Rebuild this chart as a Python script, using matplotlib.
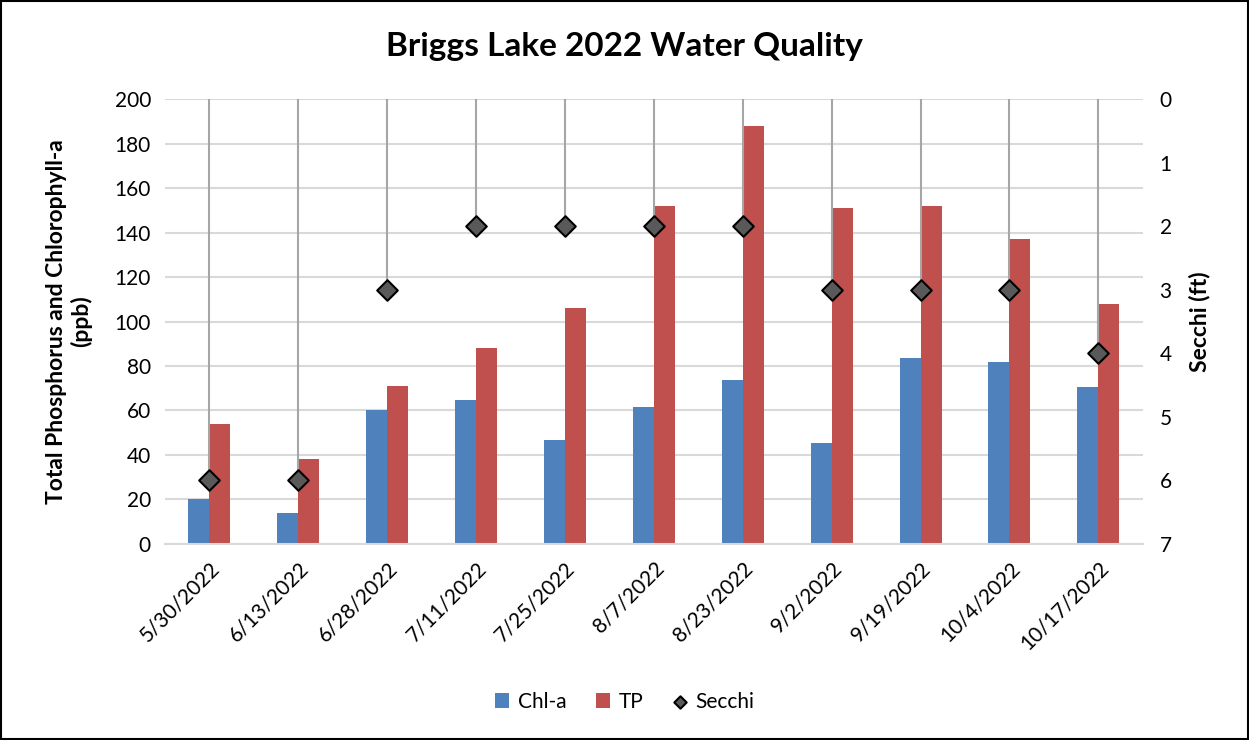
import numpy as np
import matplotlib
matplotlib.use("Agg")
import matplotlib.pyplot as plt
from matplotlib.patches import Rectangle

plt.rcParams['font.family'] = ['Lato', 'DejaVu Sans']

# data
dates = ['5/30/2022', '6/13/2022', '6/28/2022', '7/11/2022', '7/25/2022', '8/7/2022',
         '8/23/2022', '9/2/2022', '9/19/2022', '10/4/2022', '10/17/2022']
chla = [20, 14, 60, 64.5, 46.5, 61.5, 73.5, 45.5, 83.5, 82, 70.5]
tp = [54, 38, 71, 88, 106, 152, 188, 151, 152, 137, 108]
secchi = [6, 6, 3, 2, 2, 2, 2, 3, 3, 3, 4]

blue = '#4F81BD'
red = '#C0504D'

fig = plt.figure(figsize=(12.49, 7.4), dpi=100)
ax = fig.add_axes([0.132, 0.265, 0.783, 0.601])
ax2 = ax.twinx()

x = np.arange(len(dates))
w = 0.236
b1 = ax.bar(x - w/2, chla, w, color=blue, label='Chl-a', zorder=2)
b2 = ax.bar(x + w/2, tp, w, color=red, label='TP', zorder=2)

ax.set_ylim(0, 200)
ax.set_yticks(range(0, 201, 20))
ax.set_xlim(-0.5, len(dates) - 0.5)
ax.set_xticks(x)
ax.set_xticklabels(dates, rotation=45, ha='right', rotation_mode='anchor')
ax.grid(axis='y', color='#D9D9D9', linewidth=1.5, zorder=0)
ax.set_axisbelow(True)
ax.tick_params(length=0, labelsize=15, pad=10)
ax.tick_params(axis='x', pad=10)
for s in ['top', 'left', 'right']:
    ax.spines[s].set_visible(False)
ax.spines['bottom'].set_color('#D9D9D9')
ax.spines['bottom'].set_linewidth(1.5)
ax.set_ylabel('Total Phosphorus and Chlorophyll-a\n(ppb)', fontsize=16.5,
              fontweight='bold', labelpad=16)

# secchi on inverted right axis with drop lines from the top
ax2.vlines(x, 0, secchi, color='#A6A6A6', linewidth=1.5, zorder=3)
s = ax2.scatter(x, secchi, marker='D', s=110, color='#595959', edgecolor='black',
                linewidth=1.5, zorder=4, label='Secchi')
ax2.set_ylim(7, 0)
ax2.set_yticks(range(0, 8))
ax2.tick_params(length=0, labelsize=15, pad=12)
for sp in ax2.spines.values():
    sp.set_visible(False)
ax2.set_ylabel('Secchi (ft)', fontsize=16.5, fontweight='bold', labelpad=12)

fig.suptitle('Briggs Lake 2022 Water Quality', fontsize=24, fontweight='bold', y=0.957)

fig.legend(handles=[b1, b2, s], labels=['Chl-a', 'TP', 'Secchi'], loc='center',
           bbox_to_anchor=(0.5, 0.052), ncol=3, frameon=False, fontsize=15,
           handlelength=0.7, handletextpad=0.4, columnspacing=1.4, markerscale=0.6)

fig.patches.append(Rectangle((0.001, 0.001), 0.998, 0.998, transform=fig.transFigure,
                             fill=False, edgecolor='black', linewidth=1.5))

fig.savefig('out.png', dpi=100)
